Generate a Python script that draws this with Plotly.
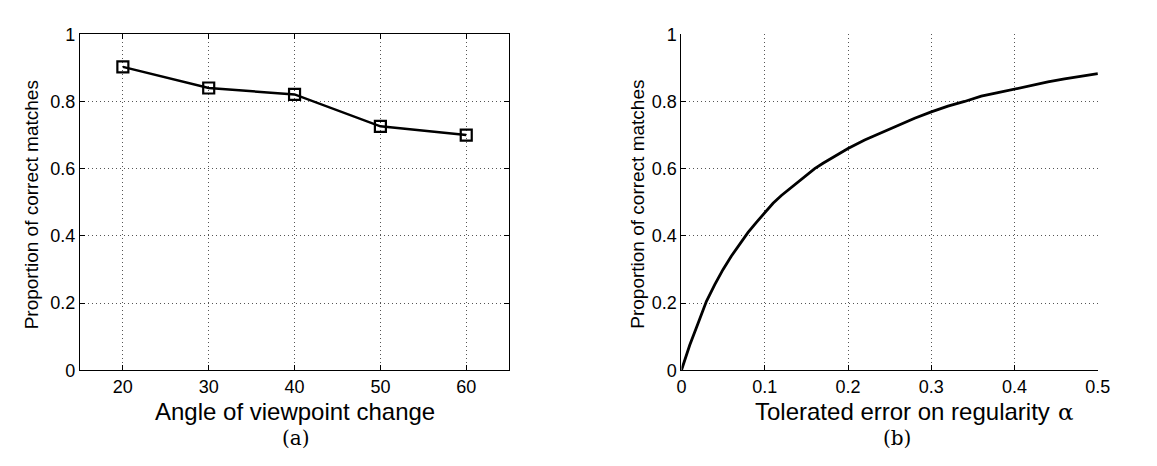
import plotly.graph_objects as go

# ---- data ----
angles = [20, 30, 40, 50, 60]
prop_a = [0.903, 0.840, 0.821, 0.726, 0.700]

alpha = [0.00, 0.01, 0.02, 0.03, 0.04, 0.05, 0.06, 0.07, 0.08, 0.09, 0.10,
         0.11, 0.12, 0.13, 0.14, 0.15, 0.16, 0.17, 0.18, 0.19, 0.20,
         0.22, 0.24, 0.26, 0.28, 0.30, 0.32, 0.34, 0.36, 0.38, 0.40,
         0.42, 0.44, 0.46, 0.48, 0.50]
prop_b = [0.000, 0.075, 0.140, 0.205, 0.255, 0.300, 0.340, 0.376, 0.410, 0.440, 0.470,
          0.497, 0.520, 0.540, 0.560, 0.580, 0.600, 0.616, 0.631, 0.645, 0.660,
          0.685, 0.707, 0.727, 0.750, 0.769, 0.786, 0.800, 0.816, 0.826, 0.837,
          0.848, 0.858, 0.867, 0.874, 0.883]

xticks_a = [20, 30, 40, 50, 60]
xticks_b = [0, 0.1, 0.2, 0.3, 0.4, 0.5]
yticks = [0, 0.2, 0.4, 0.6, 0.8, 1]

W, H = 1157, 466
SANS = "Liberation Sans"
SERIF = "DejaVu Serif"

fig = go.Figure()
fig.add_trace(go.Scatter(
    x=angles, y=prop_a, mode="lines+markers", xaxis="x", yaxis="y",
    line=dict(color="black", width=2.5),
    marker=dict(symbol="square-open", size=11, color="black", line=dict(width=2.2)),
    showlegend=False))
fig.add_trace(go.Scatter(
    x=alpha, y=prop_b, mode="lines", xaxis="x2", yaxis="y2",
    line=dict(color="black", width=2.8), showlegend=False))

def px_x(p):
    return p / W

def px_y(p):
    return (H - p) / H

grid = dict(showgrid=True, gridcolor="#555555", gridwidth=1, griddash="1px,3px")
common = dict(ticks="inside", ticklen=5, tickcolor="black", tickwidth=1,
              showline=True, linecolor="black", linewidth=1, zeroline=False,
              tickfont=dict(family=SANS, size=18, color="black"), **grid)

fig.update_layout(
    width=W, height=H, margin=dict(l=0, r=0, t=0, b=0),
    paper_bgcolor="white", plot_bgcolor="white",
    xaxis=dict(domain=[px_x(68), px_x(504)], range=[15, 65], tickvals=xticks_a,
               anchor="y", mirror="ticks", ticklabelstandoff=0, **common),
    yaxis=dict(domain=[px_y(368), px_y(17)], range=[0, 1], tickvals=yticks,
               anchor="x", mirror="ticks", **common),
    xaxis2=dict(domain=[px_x(679), px_x(1102)], range=[0, 0.5], tickvals=xticks_b,
                anchor="y2", ticklabelstandoff=0, **common),
    yaxis2=dict(domain=[px_y(368), px_y(17)], range=[0, 1], tickvals=yticks,
                anchor="x2", **common),
)

ann = [
    dict(text="Proportion of correct matches", x=px_x(19), y=px_y(195), textangle=-90,
         font=dict(family=SANS, size=19, color="black")),
    dict(text="Proportion of correct matches", x=px_x(635), y=px_y(195), textangle=-90,
         font=dict(family=SANS, size=19, color="black")),
    dict(text="Angle of viewpoint change", x=px_x(286), y=px_y(411),
         font=dict(family=SANS, size=24, color="black")),
    dict(text="Tolerated error on regularity", x=px_x(1055), y=px_y(411), xanchor="right",
         font=dict(family=SANS, size=24, color="black")),
    dict(text="α", x=px_x(1059), y=px_y(412), xanchor="left",
         font=dict(family=SERIF, size=23, color="black")),
    dict(text="(a)", x=px_x(287), y=px_y(439), font=dict(family=SERIF, size=20, color="black")),
    dict(text="(b)", x=px_x(898), y=px_y(439), font=dict(family=SERIF, size=20, color="black")),
]
for a in ann:
    a.setdefault("xanchor", "center")
    fig.add_annotation(xref="paper", yref="paper", yanchor="middle",
                       showarrow=False, **a)

fig.write_html("out.html")
